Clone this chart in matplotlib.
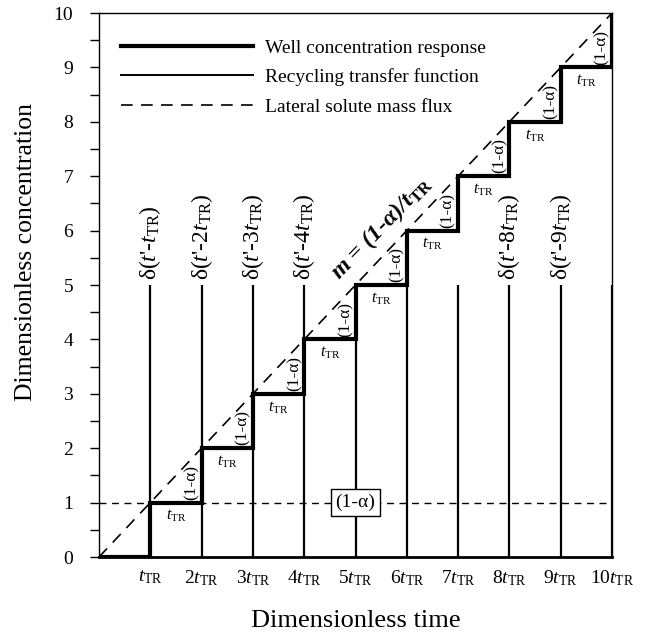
import matplotlib
matplotlib.use("Agg")
import matplotlib.pyplot as plt
import numpy as np

plt.rcParams["font.family"] = ["Liberation Serif", "DejaVu Serif"]
plt.rcParams["mathtext.fontset"] = "custom"
plt.rcParams["mathtext.rm"] = "Liberation Serif"
plt.rcParams["mathtext.it"] = "Liberation Serif:italic"
plt.rcParams["mathtext.bf"] = "Liberation Serif:bold"
plt.rcParams["mathtext.bfit"] = "Liberation Serif:bold:italic"

# ---- data (time in units of t_TR, concentration dimensionless) ----
step_times = [0, 1, 2, 3, 4, 5, 6, 7, 8, 9, 10]
well_levels = [0, 1, 2, 3, 4, 5, 6, 7, 8, 9, 10]
pulse_times = [1, 2, 3, 4, 5, 6, 7, 8, 9, 10]
pulse_height = 5
flux_x = [0, 10]
flux_y = [0, 10]
unit_flux = 1
labelled_pulses = [1, 2, 3, 4, 8, 9]
x_tick_values = [1, 2, 3, 4, 5, 6, 7, 8, 9, 10]
x_tick_labels = [r"$t_{\mathrm{TR}}$"] + [f"{n}" + r"$t_{\mathrm{TR}}$" for n in range(2, 11)]
y_tick_values = [0, 1, 2, 3, 4, 5, 6, 7, 8, 9, 10]

fig = plt.figure(figsize=(6.45, 6.41), dpi=100)
ax = fig.add_axes([99 / 645, 84 / 641, 513 / 645, 544 / 641])

# well concentration staircase
sx = np.repeat(step_times, 2)[1:]
sy = np.repeat(well_levels, 2)[:-1]
well, = ax.plot(sx, sy, color="black", lw=3.0, solid_joinstyle="miter",
                label="Well concentration response", zorder=4)

# recycling transfer function: unit pulses
ax.vlines(pulse_times, 0, pulse_height, color="black", lw=1.6, zorder=3)
pulse_handle, = ax.plot([], [], color="black", lw=1.4,
                        label="Recycling transfer function")

# lateral solute mass flux
flux, = ax.plot(flux_x, flux_y, color="black", lw=1.2, ls=(0, (7, 5)),
                label="Lateral solute mass flux", zorder=3)
ax.plot([0, 10], [unit_flux, unit_flux], color="black", lw=1.0,
        ls=(0, (5, 4)), zorder=2)

# annotations along the staircase
for k in step_times[1:-1]:
    ax.text(k + 0.5, well_levels[k] - 0.1, r"$t_{\mathrm{TR}}$", ha="center",
            va="top", fontsize=11.5, zorder=5)
for k in step_times[2:]:
    ax.text(k - 0.04, well_levels[k - 1] + 0.05, "(1-α)", rotation=90,
            ha="right", va="bottom", fontsize=12.5, zorder=5)

# pulse labels
for k in labelled_pulses:
    coef = "" if k == 1 else str(k)
    ax.text(k, pulse_height + 0.1, "δ(" + r"$t$" + "'-" + coef + r"$t_{\mathrm{TR}}$" + ")",
            rotation=90, ha="center", va="bottom", fontsize=17, zorder=5)

# unit flux label
ax.text(5, unit_flux, "(1-α)", ha="center", va="center", fontsize=14,
        bbox=dict(boxstyle="square,pad=0.25", fc="white", ec="black", lw=1.0),
        zorder=6)

# slope label
ax.text(5.5, 6.05, r"$\mathbfit{m}$ = (1-α)/" + r"$\mathbfit{t}_{\mathbf{TR}}$",
        rotation=46, rotation_mode="anchor", ha="center", va="center",
        fontsize=17.5, fontweight="bold", fontstyle="italic", zorder=5)

ax.set_xlim(0, 10)
ax.set_ylim(0, 10)
ax.set_xticks(x_tick_values)
ax.set_xticklabels(x_tick_labels, fontsize=14)
ax.set_yticks(y_tick_values)
ax.set_yticks(np.arange(0.5, 10, 1.0), minor=True)
ax.tick_params(axis="y", which="both", direction="out", length=6.5,
               width=1.0, labelsize=14, pad=12)
ax.tick_params(axis="x", length=0, pad=8)

for side in ["left", "top", "right"]:
    ax.spines[side].set_linewidth(1.0)
ax.spines["bottom"].set_linewidth(2.0)

ax.set_xlabel("Dimensionless time", fontsize=19)
ax.xaxis.set_label_coords(0.5, -0.097)
ax.set_ylabel("Dimensionless concentration", fontsize=18.5, va="center")
ax.yaxis.set_label_coords(-0.143, 0.56)

ax.legend(handles=[well, pulse_handle, flux], loc="upper left",
          bbox_to_anchor=(0.043, 0.952), frameon=False, fontsize=14,
          handlelength=6.8, handletextpad=0.6, labelspacing=0.6,
          borderpad=0, borderaxespad=0)

fig.savefig("out.png", dpi=100)
